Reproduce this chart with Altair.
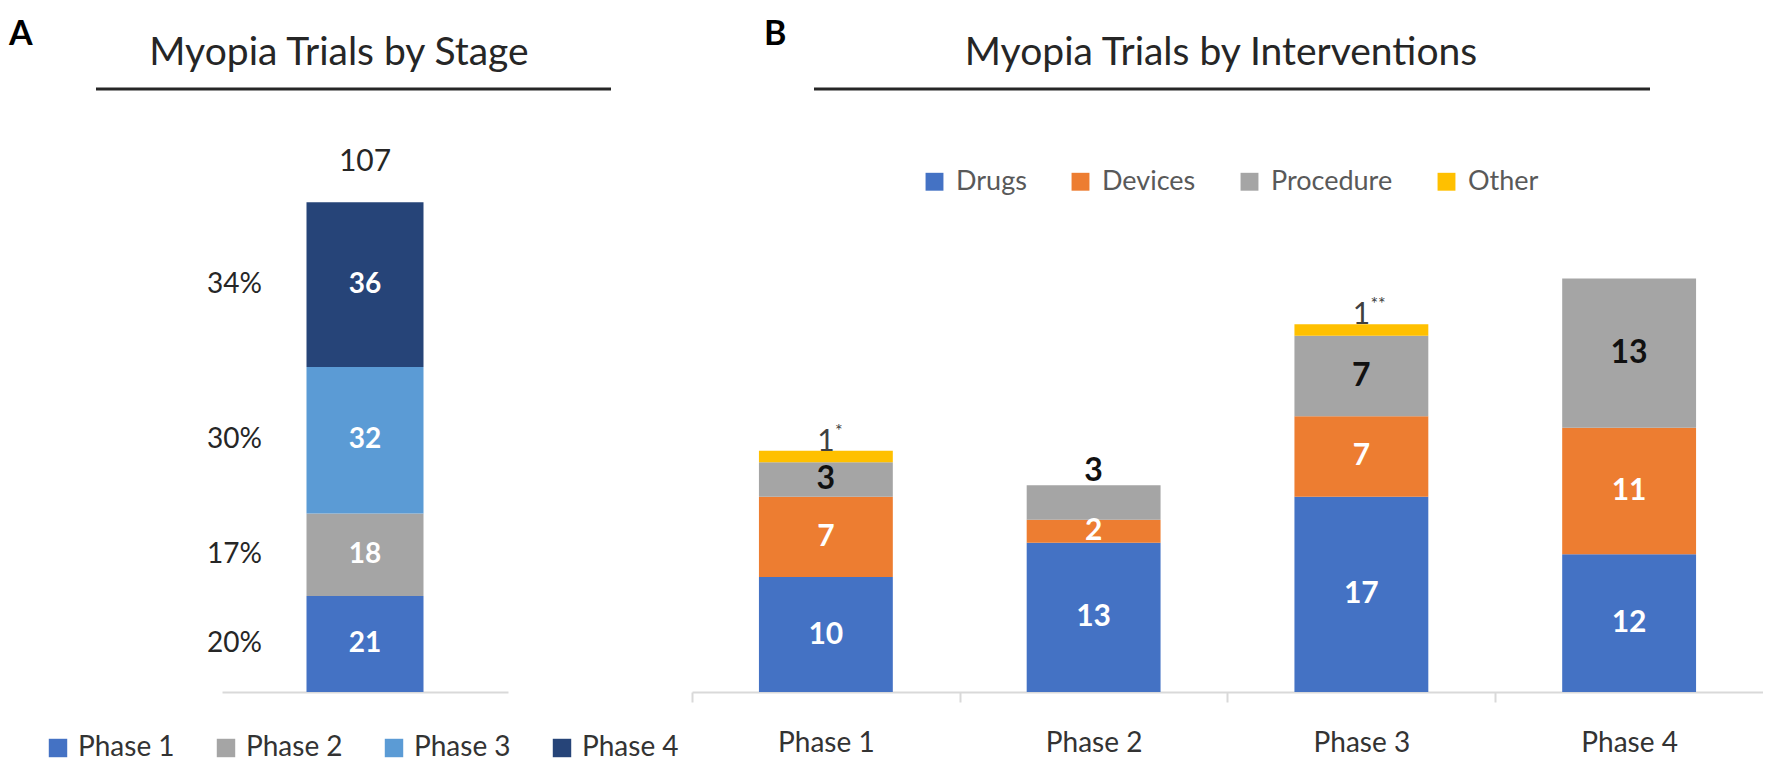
import altair as alt
import pandas as pd

FONT = "Lato"

# ---------------- data ----------------
phases = ["Phase 1", "Phase 2", "Phase 3", "Phase 4"]

# Panel A: trials by stage
stage_counts = [21, 18, 32, 36]
stage_pcts = ["20%", "17%", "30%", "34%"]
stage_colors = ["#4472C4", "#A5A5A5", "#5B9BD5", "#264478"]

# Panel B: trials by intervention
types = ["Drugs", "Devices", "Procedure", "Other"]
type_colors = ["#4472C4", "#ED7D31", "#A5A5A5", "#FFC000"]
drugs = [10, 13, 17, 12]
devices = [7, 2, 7, 11]
procedure = [3, 3, 7, 13]
other = [1, 0, 1, 0]
other_notes = ["*", "", "**", ""]
procedure_label_above = [False, True, False, False]

titles = ["Myopia Trials by Stage", "Myopia Trials by Interventions"]
letters = ["A", "B"]

# ---------------- tables ----------------
df_a = pd.DataFrame({
    "stage": ["All"] * len(phases),
    "phase": phases,
    "count": stage_counts,
    "pct": stage_pcts,
    "ord": list(range(len(phases))),
})

rows = []
for i, ph in enumerate(phases):
    vals = [drugs[i], devices[i], procedure[i], other[i]]
    for j, t in enumerate(types):
        if vals[j] == 0:
            continue
        above = (t == "Other") or (t == "Procedure" and procedure_label_above[i])
        rows.append(dict(phase=ph, type=t, count=vals[j], ord=j,
                         pos="above" if above else "in",
                         note=other_notes[i] if t == "Other" else ""))
df_b = pd.DataFrame(rows)

one = pd.DataFrame({"k": [0]})

# ---------------- layout constants ----------------
H = 540
W_A = 286
W_B = 1071
YA = alt.Scale(domain=[0, 118])
YB = alt.Scale(domain=[0, 47])
XA = alt.Scale(domain=["All"])
XB = alt.Scale(domain=phases, paddingInner=0.5, paddingOuter=0.25)
TXT = "#262626"

# ---------------- panel A ----------------
xa = alt.X("stage:N", scale=XA,
           axis=alt.Axis(labels=False, ticks=False, title=None,
                         domainColor="#D9D9D9", domainWidth=2))
bars_a = alt.Chart(df_a).mark_bar(size=117).encode(
    x=xa,
    y=alt.Y("count:Q", stack="zero", scale=YA, axis=None),
    color=alt.Color("phase:N", scale=alt.Scale(domain=phases, range=stage_colors),
                    legend=alt.Legend(orient="none", direction="horizontal",
                                      legendX=-178, legendY=582, title=None,
                                      symbolType="square", symbolSize=340,
                                      symbolStrokeWidth=0, labelFontSize=28,
                                      labelFont=FONT, labelColor="#333333",
                                      columnPadding=37, labelOffset=6)),
    order=alt.Order("ord:Q", sort="ascending"),
)
base_a = alt.Chart(df_a).transform_window(
    cum="sum(count)", sort=[alt.SortField("ord")], frame=[None, 0]
).transform_calculate(mid="datum.cum - datum.count / 2")

lab_a = base_a.mark_text(color="white", fontWeight="bold", fontSize=28, font=FONT).encode(
    x=alt.X("stage:N", scale=XA), y=alt.Y("mid:Q", scale=YA, axis=None), text="count:Q")
pct_a = base_a.mark_text(color=TXT, fontSize=28, font=FONT, align="right").encode(
    x=alt.value(40), y=alt.Y("mid:Q", scale=YA, axis=None), text="pct:N")
tot_a = alt.Chart(df_a).transform_aggregate(
    total="sum(count)", groupby=["stage"]
).mark_text(color=TXT, fontSize=30, font=FONT, baseline="middle", dy=-40).encode(
    x=alt.X("stage:N", scale=XA), y=alt.Y("total:Q", scale=YA, axis=None), text="total:Q")
title_a = alt.Chart(one).mark_text(color=TXT, fontSize=39, font=FONT, baseline="middle").encode(
    x=alt.value(117), y=alt.value(-99), text=alt.value(titles[0]))
line_a = alt.Chart(one).mark_rule(color=TXT, strokeWidth=3).encode(
    x=alt.value(-126), x2=alt.value(389), y=alt.value(-63))
letter_a = alt.Chart(one).mark_text(color="black", fontSize=34, fontWeight="bold", font=FONT,
                                    align="left", baseline="top").encode(
    x=alt.value(-213), y=alt.value(-134), text=alt.value(letters[0]))

panel_a = alt.layer(bars_a, lab_a, pct_a, tot_a, title_a, line_a, letter_a).properties(
    width=W_A, height=H)

# ---------------- panel B ----------------
xb_axis = alt.Axis(title=None, labelFontSize=28, labelFont=FONT, labelColor="#333333",
                   labelAngle=0, domainColor="#D9D9D9", domainWidth=2,
                   tickColor="#D9D9D9", tickWidth=2, tickSize=10,
                   tickOffset=-134, labelOffset=134, labelPadding=27)
bars_b = alt.Chart(df_b).mark_bar().encode(
    x=alt.X("phase:N", scale=XB, axis=xb_axis),
    y=alt.Y("count:Q", stack="zero", scale=YB, axis=None),
    color=alt.Color("type:N", scale=alt.Scale(domain=types, range=type_colors),
                    legend=alt.Legend(orient="none", direction="horizontal",
                                      legendX=229, legendY=16, title=None,
                                      symbolType="square", symbolSize=320,
                                      symbolStrokeWidth=0, labelFontSize=27,
                                      labelFont=FONT, labelColor="#595959",
                                      columnPadding=40, labelOffset=8)),
    order=alt.Order("ord:Q", sort="ascending"),
)
base_b = alt.Chart(df_b).transform_window(
    cum="sum(count)", groupby=["phase"], sort=[alt.SortField("ord")], frame=[None, 0]
).transform_calculate(mid="datum.cum - datum.count / 2")

xb = alt.X("phase:N", scale=XB)
lab_white = base_b.transform_filter(
    "datum.type == 'Drugs' || datum.type == 'Devices'"
).mark_text(color="white", fontWeight="bold", fontSize=30, font=FONT).encode(
    x=xb, y=alt.Y("mid:Q", scale=YB, axis=None), text="count:Q")
lab_proc = base_b.transform_filter(
    "datum.type == 'Procedure' && datum.pos == 'in'"
).mark_text(color="#111111", fontWeight="bold", fontSize=32, font=FONT).encode(
    x=xb, y=alt.Y("mid:Q", scale=YB, axis=None), text="count:Q")
lab_proc_above = base_b.transform_filter(
    "datum.type == 'Procedure' && datum.pos == 'above'"
).mark_text(color="#111111", fontWeight="bold", fontSize=32, font=FONT,
            baseline="alphabetic", dy=-4).encode(
    x=xb, y=alt.Y("cum:Q", scale=YB, axis=None), text="count:Q")
lab_other = base_b.transform_filter(
    "datum.type == 'Other'"
).mark_text(color="#404040", fontSize=30, font=FONT, baseline="alphabetic", dy=0).encode(
    x=xb, y=alt.Y("cum:Q", scale=YB, axis=None), text="count:Q")
lab_note = base_b.transform_filter(
    "datum.type == 'Other'"
).mark_text(color="#404040", fontSize=18, font=FONT, baseline="alphabetic",
            align="left", dx=9, dy=-14).encode(
    x=xb, y=alt.Y("cum:Q", scale=YB, axis=None), text="note:N")

title_b = alt.Chart(one).mark_text(color=TXT, fontSize=39, font=FONT, baseline="middle").encode(
    x=alt.value(529), y=alt.value(-99), text=alt.value(titles[1]))
line_b = alt.Chart(one).mark_rule(color=TXT, strokeWidth=3).encode(
    x=alt.value(122), x2=alt.value(958), y=alt.value(-63))
letter_b = alt.Chart(one).mark_text(color="black", fontSize=34, fontWeight="bold", font=FONT,
                                    align="left", baseline="top").encode(
    x=alt.value(72), y=alt.value(-134), text=alt.value(letters[1]))

panel_b = alt.layer(bars_b, lab_white, lab_proc, lab_proc_above, lab_other, lab_note,
                    title_b, line_b, letter_b).properties(width=W_B, height=H)

chart = alt.hconcat(panel_a, panel_b, spacing=184, bounds="flush").resolve_scale(
    color="independent", x="independent", y="independent"
).resolve_legend(color="independent").properties(
    padding={"left": 1, "top": 10, "right": 0, "bottom": 0}
).configure(font=FONT).configure_view(stroke=None)

chart.save("out.html", embed_options={"renderer": "svg", "actions": False})
